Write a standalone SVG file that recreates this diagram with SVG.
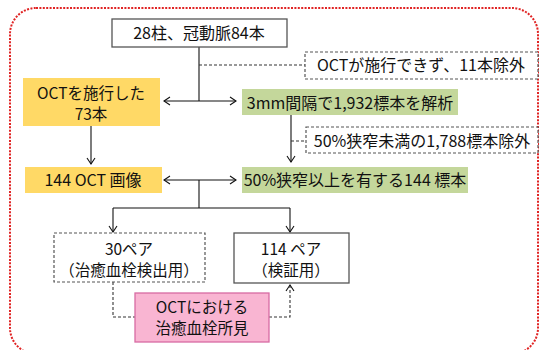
<svg xmlns="http://www.w3.org/2000/svg" width="541" height="350" viewBox="0 0 541 350">
<style>
text{font-family:"Noto Sans CJK JP","Noto Sans",sans-serif;font-size:16px;fill:#111;text-anchor:middle}
.two{font-size:15.5px}
.solid{fill:#fff;stroke:#555;stroke-width:1.3}
.dash{fill:#fff;stroke:#555;stroke-width:1.2;stroke-dasharray:3 2}
.yel{fill:#FFD966;stroke:none}
.grn{fill:#C4D79B;stroke:none}
.pink{fill:#F9B5D2;stroke:#D86BA3;stroke-width:1.3}
.ln{fill:none;stroke:#111;stroke-width:1.1}
.dl{fill:none;stroke:#333;stroke-width:1.1;stroke-dasharray:3 2}
</style>
<defs>
<marker id="ah" markerWidth="8" markerHeight="10" refX="7" refY="5" orient="auto" markerUnits="userSpaceOnUse">
<path d="M1,1 L7,5 L1,9" fill="none" stroke="#111" stroke-width="1.1"/>
</marker>
</defs>
<rect x="10" y="8" width="528" height="346" rx="26" fill="none" stroke="#E02424" stroke-width="2" stroke-dasharray="2 1.4"/>
<g id="connectors">
<path class="ln" d="M199,47 V101"/>
<path class="ln" d="M199,101 H164" marker-end="url(#ah)"/>
<path class="ln" d="M199,101 H236" marker-end="url(#ah)"/>
<path class="dl" d="M199,65 H305"/>
<path class="ln" d="M91,126 V164" marker-end="url(#ah)"/>
<path class="ln" d="M291,115 V162" marker-end="url(#ah)"/>
<path class="dl" d="M291,141 H306"/>
<path class="ln" d="M199,180 H164" marker-end="url(#ah)"/>
<path class="ln" d="M199,180 H236" marker-end="url(#ah)"/>
<path class="ln" d="M199,180 V208"/>
<path class="ln" d="M113,208 H290"/>
<path class="ln" d="M113,208 V232" marker-end="url(#ah)"/>
<path class="ln" d="M290,208 V232" marker-end="url(#ah)"/>
<path class="dl" d="M113,282 V317 H135"/>
<path class="dl" d="M269,317 H290 V285" marker-end="url(#ah)"/>
</g>
<g id="n_total"><rect class="solid" x="112" y="19" width="175" height="28"/><text x="199" y="39">28柱、冠動脈84本</text></g>
<g id="n_excl1"><rect class="dash" x="305" y="52" width="233" height="27"/><text x="421" y="71">OCTが施行できず、11本除外</text></g>
<g id="n_oct73"><rect class="yel" x="23" y="78" width="137" height="48"/><text class="two" x="91" y="99">OCTを施行した</text><text class="two" x="91" y="120">73本</text></g>
<g id="n_1932"><rect class="grn" x="242" y="89" width="216" height="26"/><text x="350" y="109">3mm間隔で1,932標本を解析</text></g>
<g id="n_excl2"><rect class="dash" x="306" y="127" width="232" height="26"/><text x="422" y="147">50%狭窄未満の1,788標本除外</text></g>
<g id="n_img"><rect class="yel" x="25" y="167" width="137" height="26"/><text x="93" y="186">144 OCT 画像</text></g>
<g id="n_144"><rect class="grn" x="242" y="167" width="226" height="26"/><text x="355" y="186">50%狭窄以上を有する144 標本</text></g>
<g id="n_30"><rect class="dash" x="54" y="233" width="151" height="49"/><text class="two" x="129" y="255">30ペア</text><text class="two" x="129" y="276">（治癒血栓検出用）</text></g>
<g id="n_114"><rect class="solid" x="234" y="233" width="115" height="50"/><text class="two" x="291" y="255">114 ペア</text><text class="two" x="291" y="276">（検証用）</text></g>
<g id="n_find"><rect class="pink" x="135" y="293" width="134" height="49"/><text class="two" x="202" y="313">OCTにおける</text><text class="two" x="202" y="334">治癒血栓所見</text></g>
</svg>
